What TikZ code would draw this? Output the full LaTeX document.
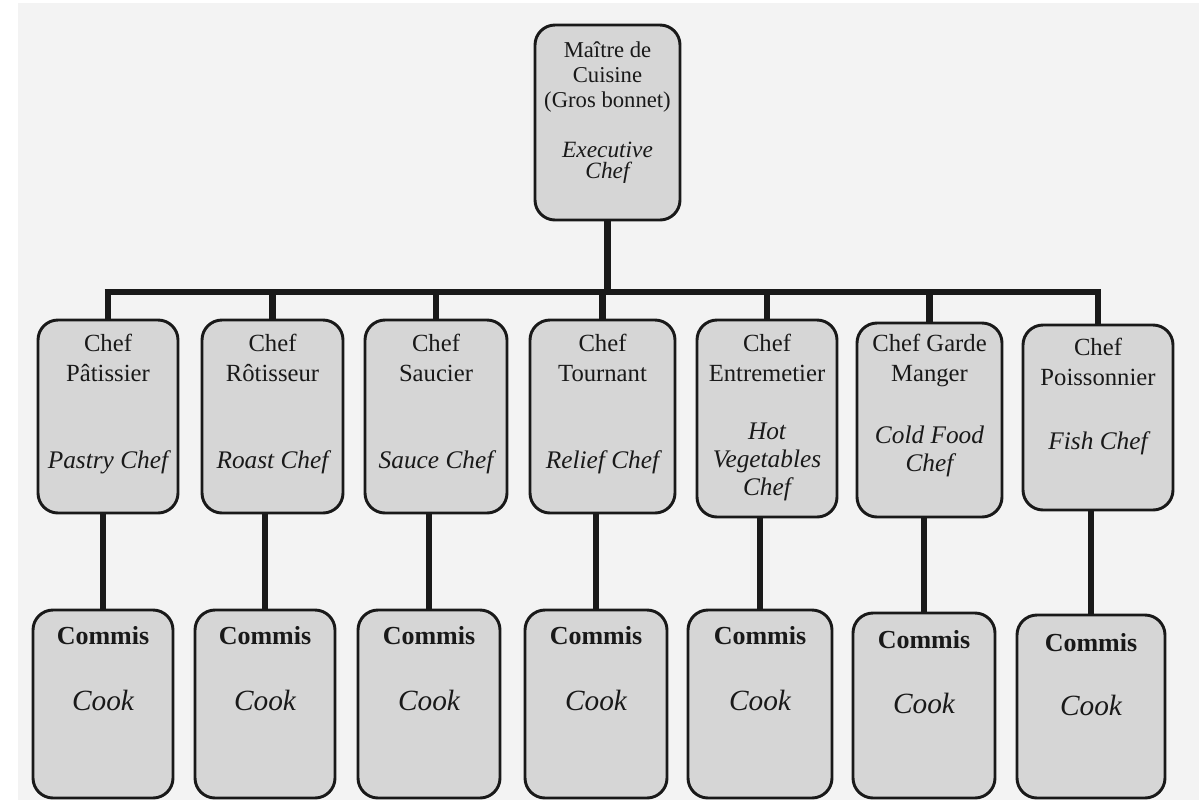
\documentclass[tikz,border=0pt]{standalone}
\usepackage{fontspec}
\setmainfont{Liberation Serif}
\definecolor{paper}{RGB}{243,243,243}
\definecolor{boxgray}{RGB}{214,214,214}
\definecolor{ink}{RGB}{25,25,25}
\tikzset{
  box/.style={draw=ink, line width=2.2pt, fill=boxgray, rounded corners=15pt, inner sep=0pt},
  conn/.style={draw=ink, line width=5pt},
  frtext/.style={inner sep=0pt, align=center, text=ink, font=\fontsize{18.5}{22.5}\selectfont},
  entext/.style={inner sep=0pt, align=center, text=ink, font=\fontsize{19}{21}\selectfont\itshape},
  commistext/.style={inner sep=0pt, text=ink, font=\fontsize{19.5}{22}\selectfont\bfseries},
  cooktext/.style={inner sep=0pt, text=ink, font=\fontsize{22}{22}\selectfont\itshape}
}
\begin{document}
\begin{tikzpicture}[x=0.75pt,y=-0.75pt]
\useasboundingbox (0,0) rectangle (1199,800);
\fill[white] (0,0) rectangle (1199,800);
\fill[paper] (18,3) rectangle (1199,800);
\coordinate (bar) at (0,292);

% top box
\node[box, minimum width=108.75pt, minimum height=146.25pt] (top) at (607.5,122.5) {};
\node[frtext, font=\fontsize{17}{19}\selectfont] (topfr) at (607.5,77) {Maître de\\Cuisine\\(Gros bonnet)};
\node[entext, font=\fontsize{17.5}{16}\selectfont\itshape] (topen) at (607.5,163) {Executive\\Chef};

% middle boxes
\node[box, minimum width=105pt,    minimum height=144.75pt] (m1) at (108,416.5) {};
\node[box, minimum width=105.75pt, minimum height=144.75pt] (m2) at (272.5,416.5) {};
\node[box, minimum width=106.5pt,  minimum height=144.75pt] (m3) at (436,416.5) {};
\node[box, minimum width=108.75pt, minimum height=144.75pt] (m4) at (602.5,416.5) {};
\node[box, minimum width=105pt,    minimum height=147.75pt] (m5) at (767,418.5) {};
\node[box, minimum width=108.75pt, minimum height=145.5pt]  (m6) at (929.5,420) {};
\node[box, minimum width=112.5pt,  minimum height=138.75pt] (m7) at (1098,417.5) {};

\node[frtext] (m1fr) at (108,358) {Chef\\Pâtissier};
\node[entext] (m1en) at (108,462) {Pastry Chef};
\node[frtext] (m2fr) at (272.5,358) {Chef\\Rôtisseur};
\node[entext] (m2en) at (272.5,462) {Roast Chef};
\node[frtext] (m3fr) at (436,358) {Chef\\Saucier};
\node[entext] (m3en) at (436,462) {Sauce Chef};
\node[frtext] (m4fr) at (602.5,358) {Chef\\Tournant};
\node[entext] (m4en) at (602.5,462) {Relief Chef};
\node[frtext] (m5fr) at (767,358) {Chef\\Entremetier};
\node[entext] (m5en) at (767,462) {Hot\\Vegetables\\Chef};
\node[frtext] (m6fr) at (929.5,360) {Chef Garde\\Manger};
\node[entext] (m6en) at (929.5,451) {Cold Food\\Chef};
\node[frtext] (m7fr) at (1098,362) {Chef\\Poissonnier};
\node[entext] (m7en) at (1098,443) {Fish Chef};

% bottom boxes
\node[box, minimum width=105pt,  minimum height=141pt]    (b1) at (103,704) {};
\node[box, minimum width=105pt,  minimum height=141pt]    (b2) at (265,704) {};
\node[box, minimum width=106.5pt,minimum height=141pt]    (b3) at (429,704) {};
\node[box, minimum width=106.5pt,minimum height=141pt]    (b4) at (596,704) {};
\node[box, minimum width=108pt,  minimum height=141pt]    (b5) at (760,704) {};
\node[box, minimum width=106.5pt,minimum height=138.75pt] (b6) at (924,705.5) {};
\node[box, minimum width=111pt,  minimum height=137.25pt] (b7) at (1091,706.5) {};

\node[commistext] (b1c) at (103,636) {Commis};  \node[cooktext] (b1k) at (103,700) {Cook};
\node[commistext] (b2c) at (265,636) {Commis};  \node[cooktext] (b2k) at (265,700) {Cook};
\node[commistext] (b3c) at (429,636) {Commis};  \node[cooktext] (b3k) at (429,700) {Cook};
\node[commistext] (b4c) at (596,636) {Commis};  \node[cooktext] (b4k) at (596,700) {Cook};
\node[commistext] (b5c) at (760,636) {Commis};  \node[cooktext] (b5k) at (760,700) {Cook};
\node[commistext] (b6c) at (924,640) {Commis};  \node[cooktext] (b6k) at (924,703) {Cook};
\node[commistext] (b7c) at (1091,643) {Commis}; \node[cooktext] (b7k) at (1091,705) {Cook};

% connectors
\draw[conn] (top.south) -- (top.south |- bar);
\draw[conn] ([xshift=-2.5pt]m1.north |- bar) -- ([xshift=2.5pt]m7.north |- bar);
\foreach \m in {m1,m2,m3,m4,m5,m6,m7}
  \draw[conn] (\m.north) -- (\m.north |- bar);
\foreach \m/\b in {m1/b1,m2/b2,m3/b3,m4/b4,m5/b5,m6/b6,m7/b7}
  \draw[conn] (\b.north) -- (\b.north |- \m.south);
\end{tikzpicture}
\end{document}
